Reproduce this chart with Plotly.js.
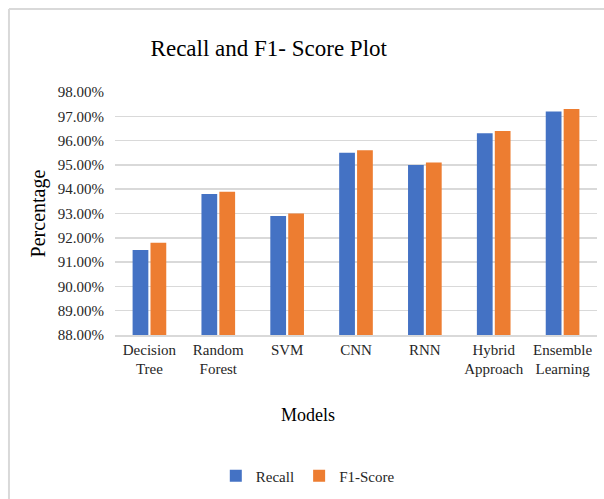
<!DOCTYPE html>
<html>
<head>
<meta charset="utf-8">
<script src="https://cdn.plot.ly/plotly-3.0.1.min.js"></script>
<style>
html,body{margin:0;padding:0;background:#fff;}
#chart{width:604px;height:499px;}
</style>
</head>
<body>
<div id="chart"></div>
<script>
const models = ["Decision<br>Tree", "Random<br>Forest", "SVM", "CNN", "RNN", "Hybrid<br>Approach", "Ensemble<br>Learning"];
const recall = [91.5, 93.8, 92.9, 95.5, 95.0, 96.3, 97.2];
const f1Score = [91.8, 93.9, 93.0, 95.6, 95.1, 96.4, 97.3];
const seriesNames = ["Recall", "F1-Score"];
const yTicks = [88, 89, 90, 91, 92, 93, 94, 95, 96, 97, 98];
const yTickLabels = yTicks.map(v => v.toFixed(2) + "%");

const FONT = "Liberation Serif";

const traces = [
  {type: "bar", name: seriesNames[0], x: models, y: recall,
   marker: {color: "#4472C4"}, hoverinfo: "skip"},
  {type: "bar", name: seriesNames[1], x: models, y: f1Score,
   marker: {color: "#ED7D31"}, hoverinfo: "skip"}
];

const layout = {
  width: 604, height: 499,
  paper_bgcolor: "#ffffff", plot_bgcolor: "#ffffff",
  margin: {l: 115, r: 7, t: 92, b: 164},
  font: {family: FONT, color: "#262626", size: 14},
  title: {text: "Recall and F1- Score Plot", font: {family: FONT, size: 23, color: "#000"},
          xref: "container", x: 0.445, xanchor: "center", yref: "container", y: 0.904, yanchor: "middle"},
  barmode: "group", bargap: 0.48, bargroupgap: 0.12,
  showlegend: true,
  legend: {orientation: "h", x: 0.40, xanchor: "center", y: -0.58, yanchor: "middle",
           font: {family: FONT, size: 15, color: "#262626"}, itemwidth: 30, traceorder: "normal"},
  xaxis: {tickfont: {family: FONT, size: 15, color: "#262626"}, tickangle: 0,
          showgrid: false, showline: true, linecolor: "#D9D9D9", linewidth: 1.5,
          ticks: "", fixedrange: true},
  yaxis: {range: [88, 98], tickmode: "array", tickvals: yTicks, ticktext: yTickLabels,
          tickfont: {family: FONT, size: 15, color: "#262626"},
          showgrid: true, gridcolor: "#D9D9D9", gridwidth: 1.5, zeroline: false,
          ticks: "", ticklabelstandoff: 10, fixedrange: true,
          title: {text: "Percentage", font: {family: FONT, size: 20, color: "#000"}, standoff: 6}},
  annotations: [
    {text: "Models", xref: "paper", yref: "paper", x: 0.40, y: -0.33, xanchor: "center", yanchor: "middle",
     showarrow: false, font: {family: FONT, size: 18, color: "#000"}}
  ],
  shapes: [
    {type: "line", xref: "paper", yref: "paper", x0: -0.22, x1: 1.02, y0: 1.3416, y1: 1.3416,
     line: {color: "#D9D9D9", width: 2}},
    {type: "line", xref: "paper", yref: "paper", x0: -0.22, x1: -0.22, y0: 1.3416, y1: -0.70,
     line: {color: "#D9D9D9", width: 2}}
  ]
};

Plotly.newPlot("chart", traces, layout, {displayModeBar: false, staticPlot: true});
</script>
</body>
</html>
